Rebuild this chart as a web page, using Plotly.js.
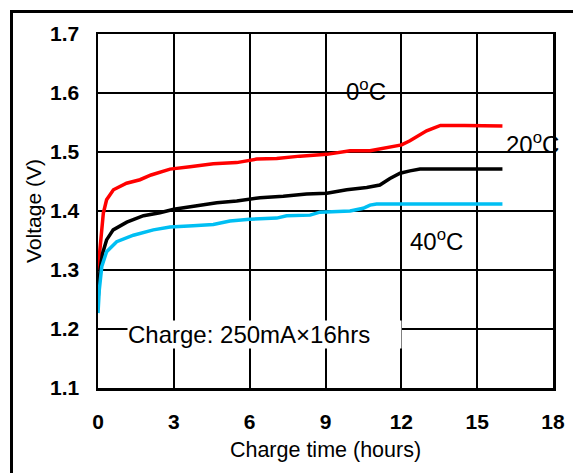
<!DOCTYPE html>
<html>
<head>
<meta charset="utf-8">
<script src="https://cdn.plot.ly/plotly-3.0.1.min.js"></script>
<style>
  html, body { margin: 0; padding: 0; background: #fff; }
  #wrap { position: relative; width: 573px; height: 473px; overflow: hidden; }
  #chart { position: absolute; left: 0; top: 0; width: 573px; height: 473px; }
  #frame { position: absolute; left: 10px; top: 10px; width: 600px; height: 500px;
           border-left: 3.5px solid #000; border-top: 3.5px solid #000; pointer-events: none; }
</style>
</head>
<body>
<div id="wrap">
  <div id="chart"></div>
  <div id="frame"></div>
</div>
<script>
// ---- data ----
const t0C = [0, 0.08, 0.15, 0.21, 0.34, 0.61, 1.13, 1.66, 2.1, 2.85, 3.64, 4.56, 5.49, 6.28, 7.07, 7.99, 9.05, 9.97, 10.76, 11.55, 12.01, 12.34, 12.7, 13.0, 13.3, 13.55, 14.5, 15.3, 16.0];
const v0C = [1.300, 1.339, 1.368, 1.396, 1.419, 1.436, 1.447, 1.453, 1.461, 1.471, 1.475, 1.480, 1.482, 1.488, 1.489, 1.493, 1.496, 1.502, 1.502, 1.508, 1.512, 1.519, 1.528, 1.536, 1.541, 1.545, 1.545, 1.545, 1.544];

const t20C = [0, 0.03, 0.08, 0.18, 0.34, 0.6, 1.14, 1.8, 2.45, 3.0, 3.76, 4.3, 4.7, 5.49, 6.41, 7.33, 8.25, 9.05, 9.84, 10.63, 11.15, 11.55, 11.95, 12.34, 12.74, 14.0, 15.0, 16.0];
const v20C = [1.248, 1.272, 1.300, 1.328, 1.351, 1.368, 1.381, 1.392, 1.397, 1.403, 1.408, 1.411, 1.414, 1.417, 1.4225, 1.425, 1.429, 1.430, 1.436, 1.440, 1.444, 1.455, 1.464, 1.468, 1.471, 1.471, 1.471, 1.471];

const t40C = [0, 0.05, 0.15, 0.34, 0.74, 1.4, 2.19, 2.85, 3.76, 4.56, 5.22, 6.0, 7.07, 7.46, 8.39, 8.78, 9.97, 10.49, 10.76, 11.02, 12.5, 14.0, 16.0];
const v40C = [1.227, 1.266, 1.306, 1.331, 1.348, 1.359, 1.368, 1.373, 1.375, 1.377, 1.383, 1.386, 1.388, 1.392, 1.393, 1.398, 1.400, 1.4045, 1.410, 1.412, 1.412, 1.412, 1.412];

const xTicks = [0, 3, 6, 9, 12, 15, 18];
const yTicks = [1.1, 1.2, 1.3, 1.4, 1.5, 1.6, 1.7];

const seriesLabels = ['0<sup>o</sup>C', '20<sup>o</sup>C', '40<sup>o</sup>C'];
const noteText = 'Charge: 250mA×16hrs';
const xTitle = 'Charge time (hours)';
const yTitle = 'Voltage (V)';

// ---- chart ----
const FONT = 'Liberation Sans, Arial, Helvetica, sans-serif';

const traces = [
  { x: t0C,  y: v0C,  mode: 'lines', line: { color: '#ff0000', width: 3.5 }, name: '0C' },
  { x: t20C, y: v20C, mode: 'lines', line: { color: '#000000', width: 3.5 }, name: '20C' },
  { x: t40C, y: v40C, mode: 'lines', line: { color: '#00bff3', width: 3.5 }, name: '40C' }
];

const layout = {
  width: 573,
  height: 473,
  margin: { l: 98, r: 20, t: 34, b: 85, pad: 0 },
  paper_bgcolor: 'rgba(0,0,0,0)',
  plot_bgcolor: '#ffffff',
  showlegend: false,
  font: { family: FONT, color: '#000' },
  xaxis: {
    range: [0, 18],
    tickvals: xTicks,
    ticktext: xTicks.map(String),
    ticks: '',
    showgrid: true,
    gridcolor: '#000',
    gridwidth: 2,
    zeroline: false,
    showline: true,
    mirror: true,
    linecolor: '#000',
    linewidth: 2.5,
    ticklabelstandoff: 13,
    tickfont: { family: FONT, size: 21, weight: 'bold', color: '#000' },
    title: { text: xTitle, font: { family: FONT, size: 21.5, color: '#000' }, standoff: 10 },
    fixedrange: true
  },
  yaxis: {
    range: [1.1, 1.7],
    tickvals: yTicks,
    ticktext: yTicks.map(v => v.toFixed(1)),
    ticks: '',
    showgrid: true,
    gridcolor: '#000',
    gridwidth: 2,
    zeroline: false,
    showline: true,
    mirror: true,
    linecolor: '#000',
    linewidth: 2.5,
    ticklabelstandoff: 12,
    tickfont: { family: FONT, size: 21, weight: 'bold', color: '#000' },
    title: { text: yTitle, font: { family: FONT, size: 21, color: '#000' }, standoff: 3 },
    fixedrange: true
  },
  annotations: [
    { text: seriesLabels[0], x: 10.62, y: 1.605, xref: 'x', yref: 'y', showarrow: false,
      font: { family: FONT, size: 24, color: '#000' }, xanchor: 'center', yanchor: 'middle' },
    { text: seriesLabels[1], x: 17.17, y: 1.515, xref: 'x', yref: 'y', showarrow: false,
      font: { family: FONT, size: 24, color: '#000' }, xanchor: 'center', yanchor: 'middle' },
    { text: seriesLabels[2], x: 13.39, y: 1.351, xref: 'x', yref: 'y', showarrow: false,
      font: { family: FONT, size: 24, color: '#000' }, xanchor: 'center', yanchor: 'middle' },
    { text: noteText, x: 1.15, y: 1.1915, xref: 'x', yref: 'y', showarrow: false,
      font: { family: FONT, size: 24, color: '#000' }, xanchor: 'left', yanchor: 'middle',
      align: 'left', width: 273, height: 27, bgcolor: '#ffffff', borderpad: 0 }
  ]
};

Plotly.newPlot('chart', traces, layout, { displayModeBar: false, staticPlot: true });
</script>
</body>
</html>
